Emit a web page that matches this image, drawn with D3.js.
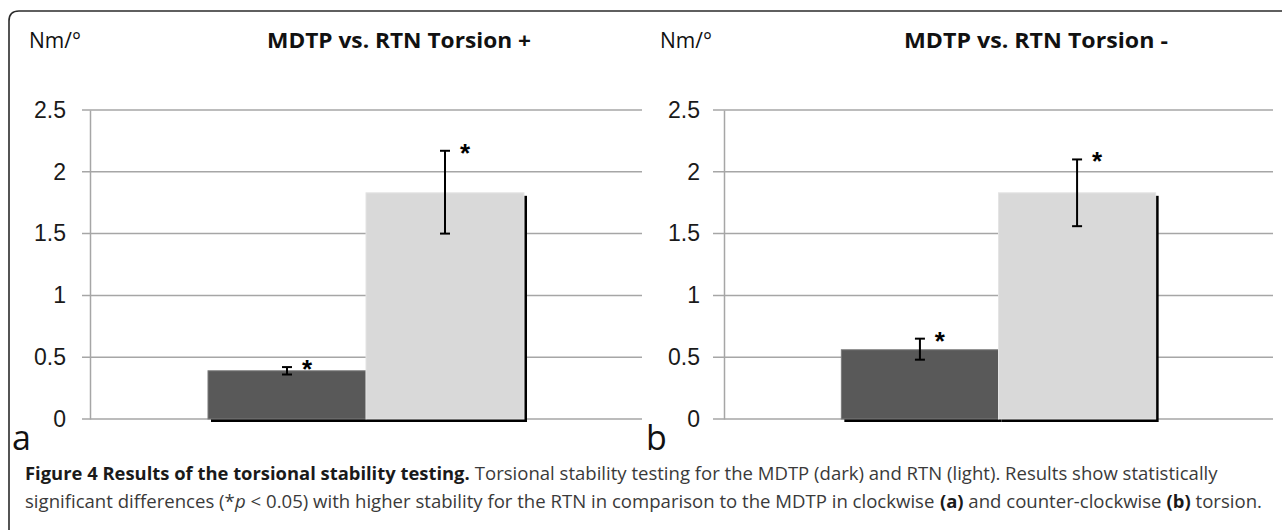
<!DOCTYPE html>
<html><head><meta charset="utf-8">
<script src="https://cdn.jsdelivr.net/npm/d3@7"></script>
<style>
body{margin:0;background:#fff;}
svg{display:block;}
</style></head>
<body>
<svg id="chart" width="1282" height="530"></svg>
<script>
// ---------- data ----------
const panelLetters = ["a", "b"];
const panelTitles = ["MDTP vs. RTN Torsion +", "MDTP vs. RTN Torsion -"];
const unitLabel = "Nm/°";
const seriesNames = ["MDTP", "RTN"];
const mdtpMean = [0.39, 0.56];
const mdtpLow  = [0.36, 0.48];
const mdtpHigh = [0.42, 0.65];
const rtnMean  = [1.83, 1.83];
const rtnLow   = [1.50, 1.56];
const rtnHigh  = [2.17, 2.10];
const yTicks = [0, 0.5, 1, 1.5, 2, 2.5];
const yTickLabels = ["0", "0.5", "1", "1.5", "2", "2.5"];
const captionLine1 = [
  ["b", "Figure 4 Results of the torsional stability testing."],
  ["r", " Torsional stability testing for the MDTP (dark) and RTN (light). Results show statistically"]
];
const captionLine2 = [
  ["r", "significant differences (*"], ["i", "p"],
  ["r", " < 0.05) with higher stability for the RTN in comparison to the MDTP in clockwise "],
  ["b", "(a)"], ["r", " and counter-clockwise "], ["b", "(b)"], ["r", " torsion."]
];

// ---------- drawing ----------
const svg = d3.select("#chart");
const colors = {MDTP: "#595959", RTN: "#d9d9d9"};
const layouts = [
  {axisX: 90, right: 642, gridLeft: 82, labelX: 66, titleX: 399, unitX: 29, letterX: 12},
  {axisX: 724, right: 1273, gridLeft: 713, labelX: 700, titleX: 1036, unitX: 660, letterX: 646}
];
const y = d3.scaleLinear().domain([0, 2.5]).range([419, 110]);

// frame
svg.append("path")
  .attr("d", "M9,540 L9,21 Q9,11 19,11 L1290,11")
  .attr("fill", "none").attr("stroke", "#2b2b2b").attr("stroke-width", 1.6);

function fitWidth(sel, target) {
  const w = sel.node().getComputedTextLength();
  const x = +sel.attr("x");
  sel.attr("transform", `translate(${x},0) scale(${target / w},1) translate(${-x},0)`);
}

panelLetters.forEach((letter, i) => {
  const L = layouts[i];
  const g = svg.append("g");
  const data = [
    {s: "MDTP", mean: mdtpMean[i], lo: mdtpLow[i], hi: mdtpHigh[i]},
    {s: "RTN", mean: rtnMean[i], lo: rtnLow[i], hi: rtnHigh[i]}
  ];
  g.selectAll("line.grid").data(yTicks).join("line")
    .attr("x1", L.gridLeft).attr("x2", L.right)
    .attr("y1", d => y(d)).attr("y2", d => y(d))
    .attr("stroke", "#a6a6a6").attr("stroke-width", 1.5);
  const axis = d3.axisLeft(y).tickValues(yTicks)
    .tickFormat((d, k) => yTickLabels[k]).tickSize(0).tickPadding(L.axisX - L.labelX);
  const ag = g.append("g").attr("transform", `translate(${L.axisX},0)`).call(axis);
  ag.select(".domain").attr("stroke", "#a6a6a6").attr("stroke-width", 1.5);
  ag.selectAll("text").attr("font-family", "Liberation Sans, Arial, sans-serif")
    .attr("font-size", 23).attr("fill", "#1a1a1a");

  const x0 = d3.scaleBand().domain([letter]).range([L.axisX, L.right]).paddingOuter(0.3734);
  const x1 = d3.scaleBand().domain(seriesNames).range([x0(letter), x0(letter) + x0.bandwidth()]);
  g.selectAll("rect.sh").data(data).join("rect")
    .attr("x", d => x1(d.s) + 3).attr("y", d => y(d.mean) + 3)
    .attr("width", x1.bandwidth()).attr("height", d => y(0) - y(d.mean))
    .attr("fill", "#000");
  g.selectAll("rect.bar").data(data).join("rect")
    .attr("x", d => x1(d.s)).attr("y", d => y(d.mean))
    .attr("width", x1.bandwidth()).attr("height", d => y(0) - y(d.mean))
    .attr("fill", d => colors[d.s])
    .attr("stroke", d => d.s === "MDTP" ? "#7a7a7a" : "#e4e4e4").attr("stroke-width", 1);
  const cx = d => x1(d.s) + x1.bandwidth() / 2;
  const eb = g.selectAll("g.eb").data(data).join("g").attr("stroke", "#000").attr("stroke-width", 2);
  eb.append("line").attr("x1", cx).attr("x2", cx).attr("y1", d => y(d.lo)).attr("y2", d => y(d.hi));
  eb.append("line").attr("x1", d => cx(d) - 5).attr("x2", d => cx(d) + 5).attr("y1", d => y(d.lo)).attr("y2", d => y(d.lo));
  eb.append("line").attr("x1", d => cx(d) - 5).attr("x2", d => cx(d) + 5).attr("y1", d => y(d.hi)).attr("y2", d => y(d.hi));
  g.selectAll("text.ast").data(data).join("text")
    .attr("x", d => cx(d) + 20).attr("y", d => y(d.hi) + 11)
    .attr("text-anchor", "middle")
    .attr("font-family", "Liberation Sans, Arial, sans-serif").attr("font-weight", "bold")
    .attr("font-size", 26).text("*");

  g.append("text").attr("x", L.unitX).attr("y", 48)
    .attr("font-family", "Open Sans, sans-serif").attr("font-size", 21).attr("fill", "#111")
    .text(unitLabel);
  const t = g.append("text").attr("x", L.titleX - 132).attr("y", 48)
    .attr("font-family", "Open Sans, sans-serif").attr("font-weight", "bold")
    .attr("font-size", 21).attr("fill", "#111").text(panelTitles[i]);
  fitWidth(t, 264);
  g.append("text").attr("x", L.letterX).attr("y", 450)
    .attr("font-family", "Open Sans, sans-serif").attr("font-size", 34).attr("fill", "#111")
    .text(letter);
});

// caption: segments, bold and regular compressed at different rates (condensed face look)
function drawCaption(segs, x0, x1, yb, ratio) {
  const nodes = segs.map(([kind, txt]) => {
    const t = svg.append("text").attr("y", yb).attr("x", 0)
      .attr("font-family", "Open Sans, sans-serif").attr("font-size", 18)
      .attr("fill", kind === "b" ? "#1a1a1a" : "#3a3a3a")
      .attr("font-weight", kind === "b" ? "bold" : null)
      .attr("font-style", kind === "i" ? "italic" : null)
      .style("white-space", "pre").text(txt);
    return {t, kind, w: t.node().getComputedTextLength()};
  });
  const wb = d3.sum(nodes.filter(n => n.kind === "b"), n => n.w);
  const wr = d3.sum(nodes.filter(n => n.kind !== "b"), n => n.w);
  const kr = (x1 - x0) / (wr + ratio * wb);
  const kb = ratio * kr;
  let cx = x0;
  nodes.forEach(n => {
    const k = n.kind === "b" ? kb : kr;
    n.t.attr("transform", `translate(${cx},0) scale(${k},1)`);
    cx += n.w * k;
  });
}
(function () {
  const probe = captionLine1.map(([kind, txt]) => {
    const t = svg.append("text").attr("font-family", "Open Sans, sans-serif").attr("font-size", 18)
      .attr("font-weight", kind === "b" ? "bold" : null).style("white-space", "pre").text(txt);
    const w = t.node().getComputedTextLength(); t.remove(); return w;
  });
  const boldEnd = 470, start = 25, end1 = 1218;
  const kb = (boldEnd - start) / probe[0];
  const kr = (end1 - boldEnd) / probe[1];
  const ratio = kb / kr;
  drawCaption(captionLine1, start, end1, 480, ratio);
  drawCaption(captionLine2, start, 1262, 508, ratio);
})();
</script>
</body></html>
